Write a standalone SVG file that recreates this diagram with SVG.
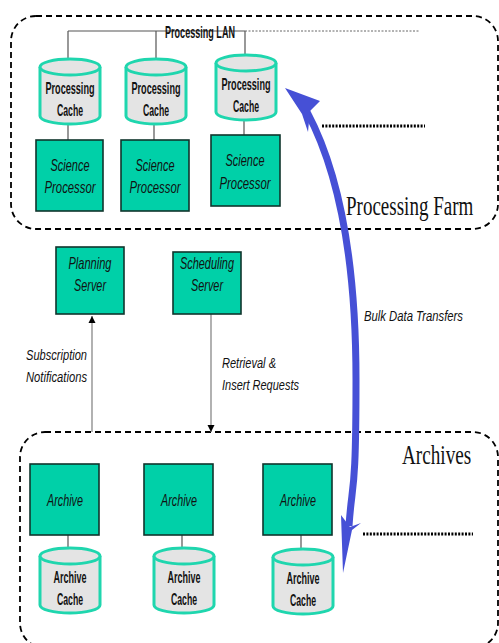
<svg xmlns="http://www.w3.org/2000/svg" width="499" height="643" viewBox="0 0 499 643">
  <style>
    .frame { fill: none; stroke: #000; stroke-width: 1.8; stroke-dasharray: 6 4; }
    .box { fill: #00d0a8; stroke: #10352c; stroke-width: 1.6; }
    .link { fill: none; stroke: #555; stroke-width: 1.2; }
    .flow { fill: none; stroke: #888; stroke-width: 1.3; }
    .dots { fill: none; stroke: #000; stroke-width: 3; stroke-dasharray: 2 1.4; }
    .lbl { font-family: "Liberation Sans", Arial, sans-serif; font-style: italic; font-size: 17px; fill: #111; text-anchor: middle; }
    .note { font-family: "Liberation Sans", Arial, sans-serif; font-style: italic; font-size: 15.5px; fill: #111; }
    .cyltxt { font-family: "Liberation Sans", Arial, sans-serif; font-weight: bold; font-size: 16.5px; fill: #111; text-anchor: middle; }
    .title { font-family: "Liberation Serif", "Times New Roman", serif; font-size: 27px; fill: #111; }
    .bulk { fill: #4650d6; }
  </style>
  <defs>
    <g id="cyl">
      <path d="M0 8 V57 A30 8 0 0 0 60 57 V8" fill="#e4e4e4" stroke="#1fd6ae" stroke-width="3"/>
      <ellipse cx="30" cy="8" rx="30" ry="8" fill="#e4e4e4" stroke="#1fd6ae" stroke-width="3"/>
    </g>
    <marker id="head" viewBox="0 0 10 10" refX="10" refY="5" markerWidth="7" markerHeight="9" orient="auto" markerUnits="userSpaceOnUse">
      <path d="M0 0 L10 5 L0 10 Z" fill="#000"/>
    </marker>
  </defs>

  <!-- enclosing regions -->
  <g id="processing-farm">
    <rect class="frame" x="11" y="16" width="487" height="213" rx="25" ry="25"/>
    <text class="title" transform="translate(346 215) scale(0.705 1)">Processing Farm</text>
  </g>
  <g id="archives">
    <rect class="frame" x="20" y="432" width="478" height="216" rx="25" ry="25"/>
    <text class="title" transform="translate(402 464) scale(0.71 1)">Archives</text>
  </g>

  <!-- connectors -->
  <g id="connectors">
    <path class="link" d="M68 31 H245 M68 31 V59 M156 31 V59 M245 31 V55"/>
    <path d="M245 31 H420" fill="none" stroke="#666" stroke-width="1" stroke-dasharray="2 1.5"/>
    <path class="link" d="M68 125 V140 M154 125 V140 M244 120 V135"/>
    <path class="link" d="M68 535 V548 M182 535 V548 M301 535 V549"/>
    <path class="dots" d="M322 126 H425"/>
    <path class="dots" d="M363 534 H473"/>
    <line class="flow" x1="92" y1="432" x2="92" y2="316" marker-end="url(#head)"/>
    <line class="flow" x1="211" y1="314" x2="211" y2="432" marker-end="url(#head)"/>
    <text class="note" x="26" y="360" textLength="61" lengthAdjust="spacingAndGlyphs">Subscription</text>
    <text class="note" x="26" y="382" textLength="61" lengthAdjust="spacingAndGlyphs">Notifications</text>
    <text class="note" x="222" y="368" textLength="54" lengthAdjust="spacingAndGlyphs">Retrieval &amp;</text>
    <text class="note" x="222" y="390" textLength="77" lengthAdjust="spacingAndGlyphs">Insert Requests</text>
    <!-- bulk transfer double arrow -->
    <path d="M307 112 C338 170 356 260 356 380 S352 480 349 526" fill="none" stroke="#4650d6" stroke-width="7"/>
    <polygon class="bulk" points="285,88 320,101 310,111 308,132 302,114"/>
    <polygon class="bulk" points="343,573 341,515 350,527 361,523 352,530"/>
    <text class="note" x="364" y="321" textLength="99" lengthAdjust="spacingAndGlyphs">Bulk Data Transfers</text>
  </g>
  <g id="lan-label">
    <text class="cyltxt" x="200" y="38" font-size="14" textLength="70" lengthAdjust="spacingAndGlyphs">Processing LAN</text>
  </g>

  <!-- processing caches -->
  <g id="pcache1">
    <use href="#cyl" x="40" y="59"/>
    <text class="cyltxt" x="70" y="94" textLength="49" lengthAdjust="spacingAndGlyphs">Processing</text>
    <text class="cyltxt" x="70" y="116" textLength="26" lengthAdjust="spacingAndGlyphs">Cache</text>
  </g>
  <g id="pcache2">
    <use href="#cyl" x="126" y="59"/>
    <text class="cyltxt" x="156" y="94" textLength="49" lengthAdjust="spacingAndGlyphs">Processing</text>
    <text class="cyltxt" x="156" y="116" textLength="26" lengthAdjust="spacingAndGlyphs">Cache</text>
  </g>
  <g id="pcache3">
    <use href="#cyl" x="216" y="55"/>
    <text class="cyltxt" x="246" y="90" textLength="49" lengthAdjust="spacingAndGlyphs">Processing</text>
    <text class="cyltxt" x="246" y="112" textLength="26" lengthAdjust="spacingAndGlyphs">Cache</text>
  </g>

  <!-- science processors -->
  <g id="proc1">
    <rect class="box" x="36" y="140" width="67" height="71"/>
    <text class="lbl" x="70" y="171" textLength="39" lengthAdjust="spacingAndGlyphs">Science</text>
    <text class="lbl" x="70" y="193" textLength="51" lengthAdjust="spacingAndGlyphs">Processor</text>
  </g>
  <g id="proc2">
    <rect class="box" x="121" y="140" width="68" height="71"/>
    <text class="lbl" x="155" y="171" textLength="39" lengthAdjust="spacingAndGlyphs">Science</text>
    <text class="lbl" x="155" y="193" textLength="51" lengthAdjust="spacingAndGlyphs">Processor</text>
  </g>
  <g id="proc3">
    <rect class="box" x="211" y="135" width="69" height="71"/>
    <text class="lbl" x="245" y="166" textLength="39" lengthAdjust="spacingAndGlyphs">Science</text>
    <text class="lbl" x="245" y="189" textLength="51" lengthAdjust="spacingAndGlyphs">Processor</text>
  </g>

  <!-- servers -->
  <g id="planning">
    <rect class="box" x="56" y="247" width="68" height="67"/>
    <text class="lbl" x="90" y="269" textLength="43" lengthAdjust="spacingAndGlyphs">Planning</text>
    <text class="lbl" x="90" y="291" textLength="32" lengthAdjust="spacingAndGlyphs">Server</text>
  </g>
  <g id="scheduling">
    <rect class="box" x="173" y="252" width="68" height="62"/>
    <text class="lbl" x="207" y="269" textLength="54" lengthAdjust="spacingAndGlyphs">Scheduling</text>
    <text class="lbl" x="207" y="291" textLength="32" lengthAdjust="spacingAndGlyphs">Server</text>
  </g>

  <!-- archives -->
  <g id="archive1">
    <rect class="box" x="30" y="464" width="69" height="71"/>
    <text class="lbl" x="65" y="506" textLength="36" lengthAdjust="spacingAndGlyphs">Archive</text>
  </g>
  <g id="archive2">
    <rect class="box" x="144" y="464" width="69" height="71"/>
    <text class="lbl" x="179" y="506" textLength="36" lengthAdjust="spacingAndGlyphs">Archive</text>
  </g>
  <g id="archive3">
    <rect class="box" x="263" y="464" width="69" height="71"/>
    <text class="lbl" x="298" y="506" textLength="36" lengthAdjust="spacingAndGlyphs">Archive</text>
  </g>

  <!-- archive caches -->
  <g id="acache1">
    <use href="#cyl" x="40" y="548"/>
    <text class="cyltxt" x="70" y="583" textLength="33" lengthAdjust="spacingAndGlyphs">Archive</text>
    <text class="cyltxt" x="70" y="605" textLength="26" lengthAdjust="spacingAndGlyphs">Cache</text>
  </g>
  <g id="acache2">
    <use href="#cyl" x="154" y="548"/>
    <text class="cyltxt" x="184" y="583" textLength="33" lengthAdjust="spacingAndGlyphs">Archive</text>
    <text class="cyltxt" x="184" y="605" textLength="26" lengthAdjust="spacingAndGlyphs">Cache</text>
  </g>
  <g id="acache3">
    <use href="#cyl" x="273" y="549"/>
    <text class="cyltxt" x="303" y="584" textLength="33" lengthAdjust="spacingAndGlyphs">Archive</text>
    <text class="cyltxt" x="303" y="606" textLength="26" lengthAdjust="spacingAndGlyphs">Cache</text>
  </g>
</svg>
